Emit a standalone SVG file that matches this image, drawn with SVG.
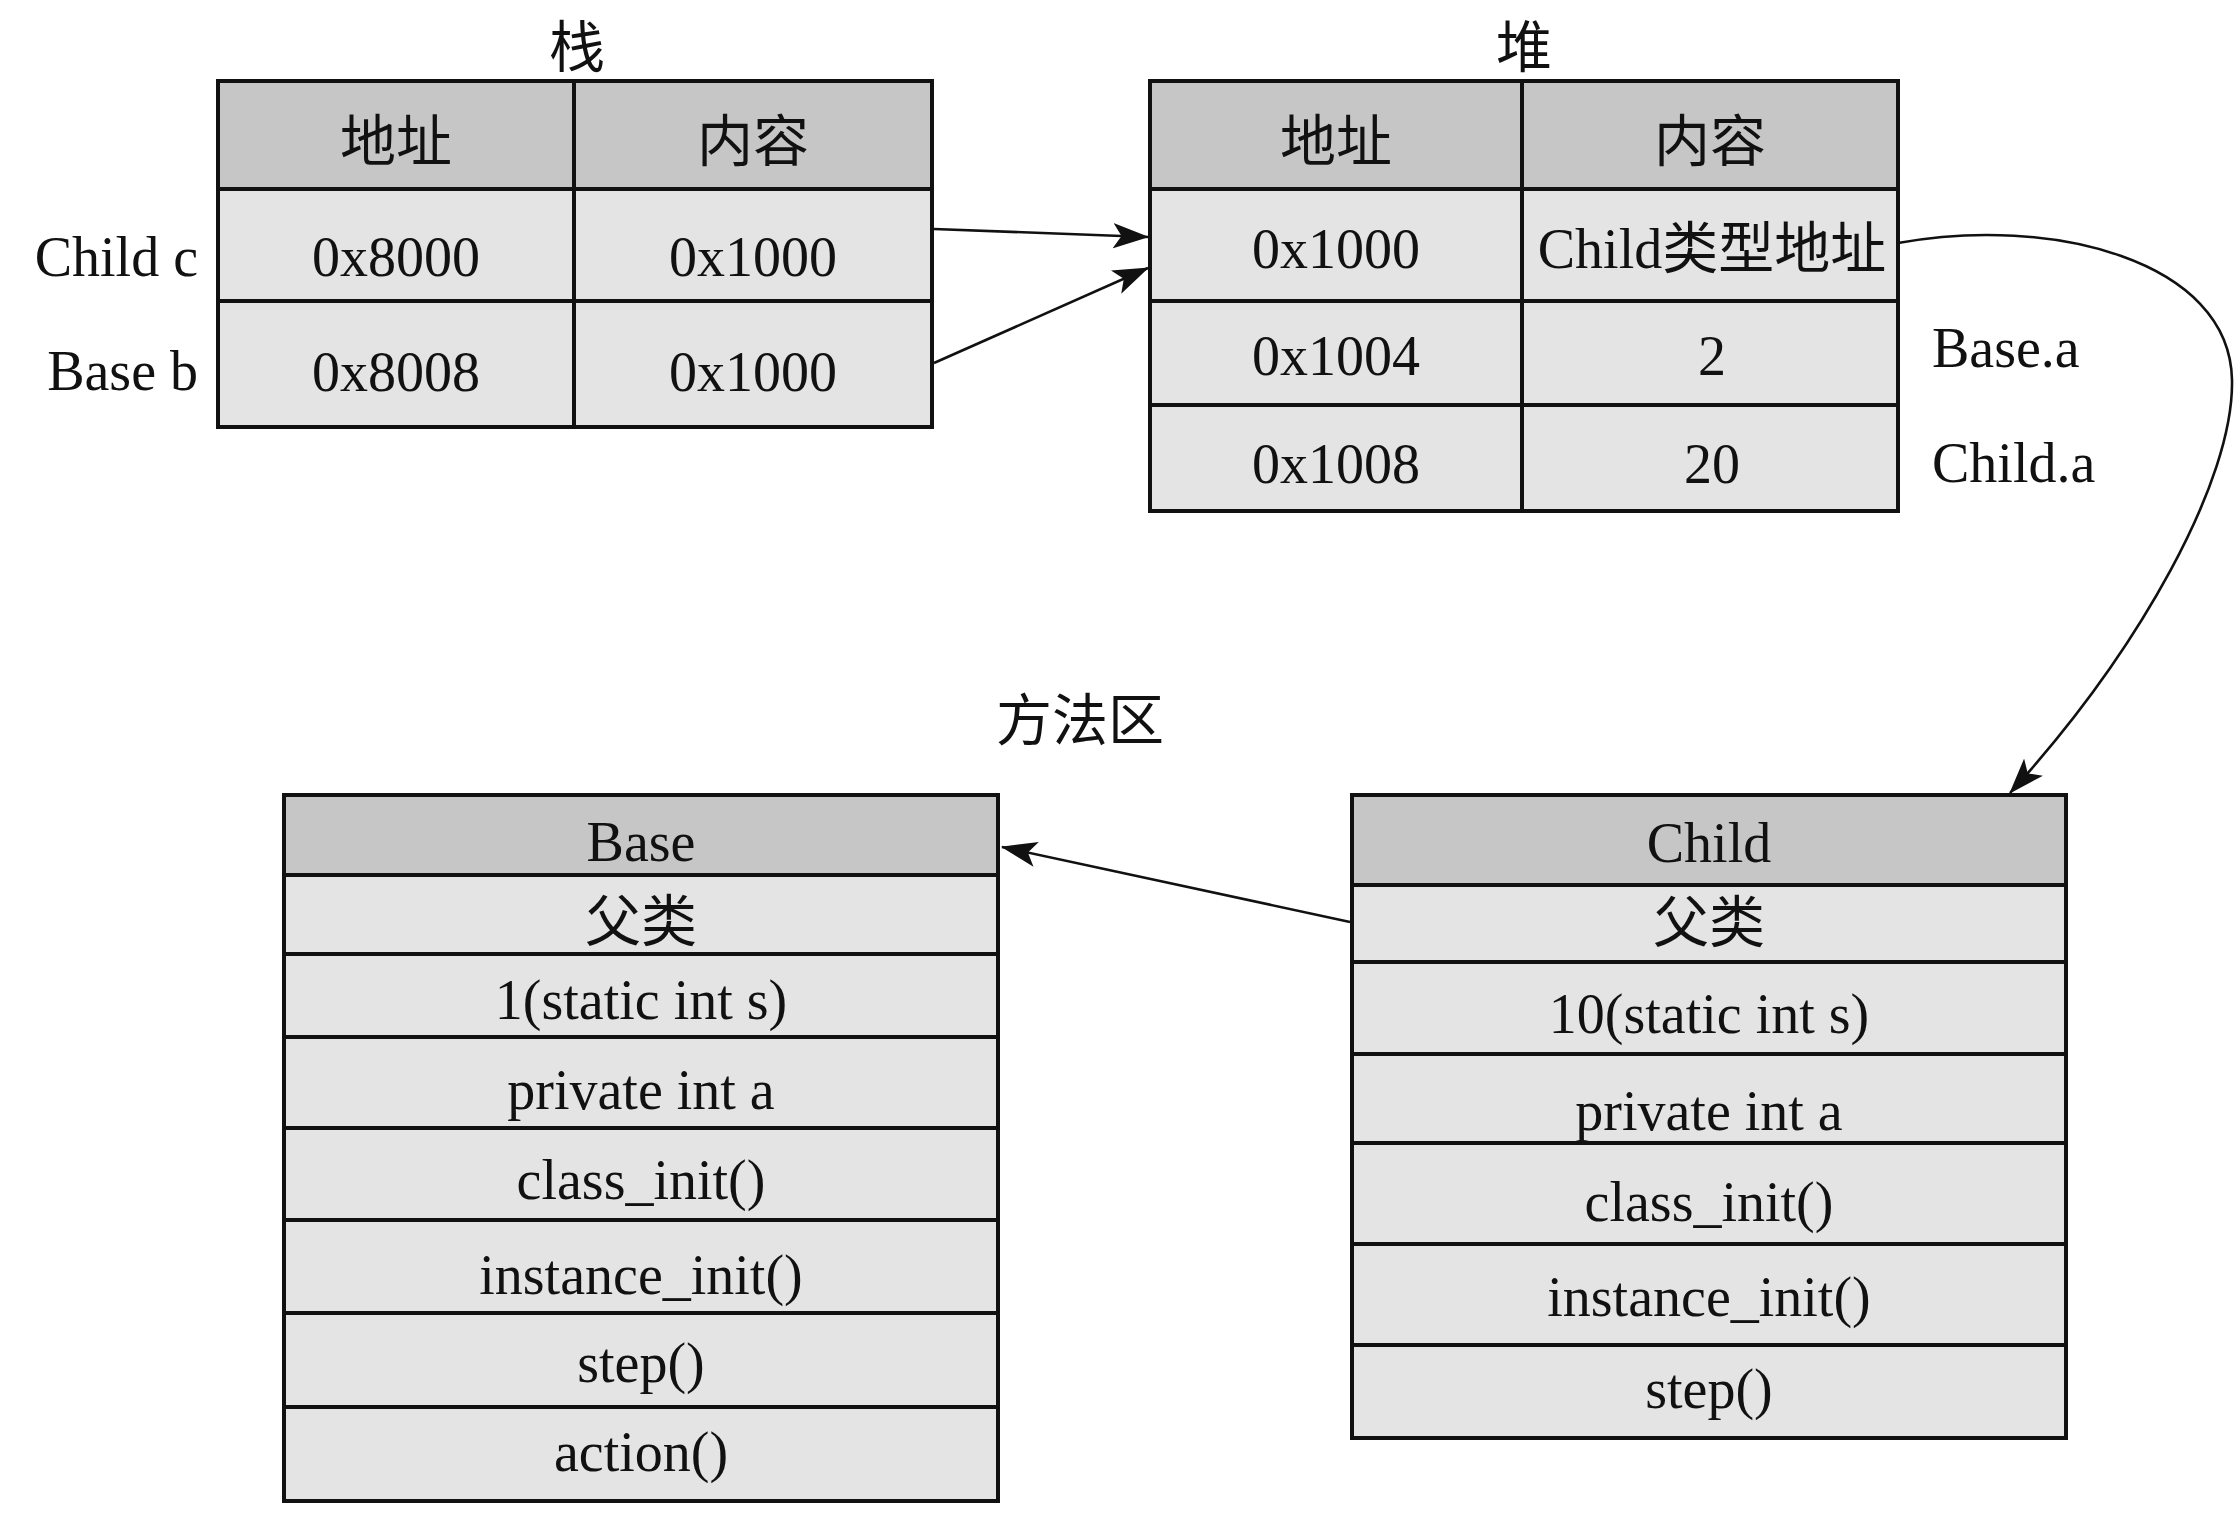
<svg xmlns="http://www.w3.org/2000/svg" width="2234" height="1522" viewBox="0 0 2234 1522">
<style>
.t{font-family:"Liberation Serif","Noto Sans CJK SC",serif;font-size:56px;fill:#111;text-anchor:middle}
.tl{font-family:"Liberation Serif","Noto Sans CJK SC",serif;font-size:56px;fill:#111}
.tr{font-family:"Liberation Serif","Noto Sans CJK SC",serif;font-size:56px;fill:#111;text-anchor:end}
.hd{fill:#c6c6c6}
.cl{fill:#e4e4e4}
.ln{stroke:#111;stroke-width:4;fill:none}
.cn{stroke:#111;stroke-width:2.6;fill:none}
</style>
<defs>
<marker id="arr" markerUnits="userSpaceOnUse" markerWidth="36" markerHeight="26" viewBox="0 0 34 24" refX="33" refY="12" orient="auto">
<path d="M0,0 L34,12 L0,24 L8,12 Z" fill="#111"/>
</marker>
</defs>
<rect width="2234" height="1522" fill="#fff"/>

<g id="label-stack"><text class="t" x="577" y="67">栈</text></g>
<g id="label-heap"><text class="t" x="1524" y="67">堆</text></g>
<g id="label-method"><text class="t" x="1080" y="740">方法区</text></g>

<g id="stack">
<rect class="hd" x="218" y="81" width="714" height="108"/>
<rect class="cl" x="218" y="189" width="714" height="238"/>
<path class="ln" d="M218,81 H932 V427 H218 Z M218,189 H932 M218,301 H932 M574,81 V427"/>
<text class="t" x="396" y="161">地址</text>
<text class="t" x="753" y="161">内容</text>
<text class="t" x="396" y="276">0x8000</text>
<text class="t" x="753" y="276">0x1000</text>
<text class="t" x="396" y="391">0x8008</text>
<text class="t" x="753" y="391">0x1000</text>
<text class="tr" x="198" y="276">Child c</text>
<text class="tr" x="198" y="390">Base b</text>
</g>

<g id="heap">
<rect class="hd" x="1150" y="81" width="748" height="108"/>
<rect class="cl" x="1150" y="189" width="748" height="322"/>
<path class="ln" d="M1150,81 H1898 V511 H1150 Z M1150,189 H1898 M1150,301 H1898 M1150,405 H1898 M1522,81 V511"/>
<text class="t" x="1336" y="161">地址</text>
<text class="t" x="1710" y="161">内容</text>
<text class="t" x="1336" y="268">0x1000</text>
<text class="t" x="1712" y="268">Child类型地址</text>
<text class="t" x="1336" y="375">0x1004</text>
<text class="t" x="1712" y="375">2</text>
<text class="t" x="1336" y="483">0x1008</text>
<text class="t" x="1712" y="483">20</text>
<text class="tl" x="1932" y="367">Base.a</text>
<text class="tl" x="1932" y="482">Child.a</text>
</g>

<g id="base-class">
<rect class="hd" x="284" y="795" width="714" height="80"/>
<rect class="cl" x="284" y="875" width="714" height="626"/>
<path class="ln" d="M284,795 H998 V1501 H284 Z M284,875 H998 M284,954 H998 M284,1037 H998 M284,1128 H998 M284,1220 H998 M284,1313 H998 M284,1407 H998"/>
<text class="t" x="641" y="861">Base</text>
<text class="t" x="641" y="941">父类</text>
<text class="t" x="641" y="1019">1(static int s)</text>
<text class="t" x="641" y="1109">private int a</text>
<text class="t" x="641" y="1199">class_init()</text>
<text class="t" x="641" y="1294">instance_init()</text>
<text class="t" x="641" y="1382">step()</text>
<text class="t" x="641" y="1471">action()</text>
</g>

<g id="child-class">
<rect class="hd" x="1352" y="795" width="714" height="90"/>
<rect class="cl" x="1352" y="885" width="714" height="553"/>
<path class="ln" d="M1352,795 H2066 V1438 H1352 Z M1352,885 H2066 M1352,962 H2066 M1352,1054 H2066 M1352,1143 H2066 M1352,1244 H2066 M1352,1345 H2066"/>
<text class="t" x="1709" y="862">Child</text>
<text class="t" x="1709" y="942">父类</text>
<text class="t" x="1709" y="1033">10(static int s)</text>
<text class="t" x="1709" y="1130">private int a</text>
<text class="t" x="1709" y="1221">class_init()</text>
<text class="t" x="1709" y="1316">instance_init()</text>
<text class="t" x="1709" y="1408">step()</text>
</g>

<g id="connectors">
<path class="cn" d="M934,229 L1148,237" marker-end="url(#arr)"/>
<path class="cn" d="M934,363 L1148,268" marker-end="url(#arr)"/>
<path class="cn" d="M1898,243 C2050,215 2230,260 2232,380 C2234,480 2140,650 2010,793" marker-end="url(#arr)"/>
<path class="cn" d="M1350,922 L1002,847" marker-end="url(#arr)"/>
</g>
</svg>
